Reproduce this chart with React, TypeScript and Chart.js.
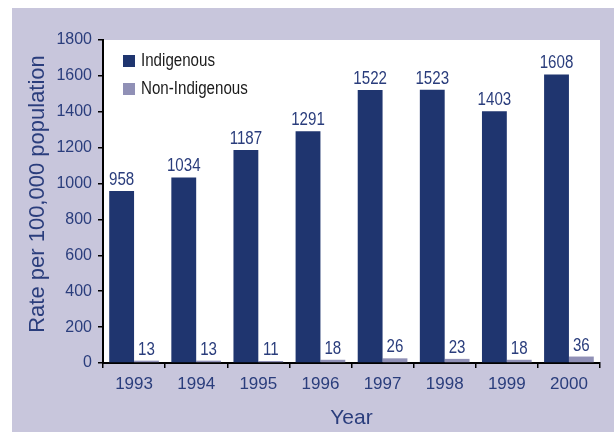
import React, { useEffect, useRef } from "react";
import { Chart, registerables } from "chart.js";

Chart.register(...registerables);

const years = ["1993", "1994", "1995", "1996", "1997", "1998", "1999", "2000"];
const indigenous = [958, 1034, 1187, 1291, 1522, 1523, 1403, 1608];
const nonIndigenous = [13, 13, 11, 18, 26, 23, 18, 36];
const seriesLabels = ["Indigenous", "Non-Indigenous"];
const yMin = 0;
const yMax = 1800;
const yStep = 200;
const yTitle = "Rate per 100,000 population";
const xTitle = "Year";

const NAVY_TEXT = "#2a3d7c";
const DARK_BAR = "#1f356f";
const LIGHT_BAR = "#9090b6";
const LAVENDER = "#c8c6dc";
const FONT = "'Liberation Sans', Arial, sans-serif";

const backgroundPlugin = {
  id: "panelBackground",
  beforeDraw(chart: any) {
    const { ctx, width, height, chartArea } = chart;
    ctx.save();
    ctx.fillStyle = "#ffffff";
    ctx.fillRect(0, 0, width, height);
    ctx.fillStyle = LAVENDER;
    ctx.fillRect(12, 8, width - 12, height - 8);
    ctx.fillStyle = "#ffffff";
    ctx.fillRect(chartArea.left, chartArea.top, chartArea.right - chartArea.left, chartArea.bottom - chartArea.top);
    ctx.restore();
  },
};

const labelsPlugin = {
  id: "valueLabels",
  afterDatasetsDraw(chart: any) {
    const { ctx } = chart;
    ctx.save();
    ctx.fillStyle = NAVY_TEXT;
    ctx.font = `18px ${FONT}`;
    ctx.textAlign = "center";
    ctx.textBaseline = "alphabetic";
    chart.data.datasets.forEach((ds: any, di: number) => {
      const meta = chart.getDatasetMeta(di);
      meta.data.forEach((bar: any, i: number) => {
        const v = ds.data[i];
        ctx.save();
        ctx.translate(bar.x, bar.y - 6);
        ctx.scale(0.84, 1);
        ctx.fillText(String(v), 0, 0);
        ctx.restore();
      });
    });
    ctx.restore();
  },
};

const legendTitlesPlugin = {
  id: "legendTitles",
  afterDraw(chart: any) {
    const { ctx, chartArea } = chart;
    ctx.save();
    // legend
    const lx = chartArea.left + 20;
    const ly = chartArea.top + 15;
    chart.data.datasets.forEach((ds: any, i: number) => {
      const y = ly + i * 28;
      ctx.fillStyle = ds.backgroundColor;
      ctx.fillRect(lx, y, 12, 12);
      ctx.fillStyle = "#1a1a1a";
      ctx.font = `18px ${FONT}`;
      ctx.textAlign = "left";
      ctx.textBaseline = "alphabetic";
      ctx.save();
      ctx.translate(lx + 18, y + 11);
      ctx.scale(0.84, 1);
      ctx.fillText(ds.label, 0, 0);
      ctx.restore();
    });
    // y title
    ctx.fillStyle = NAVY_TEXT;
    ctx.font = `22px ${FONT}`;
    ctx.textAlign = "center";
    ctx.textBaseline = "middle";
    ctx.save();
    ctx.translate(38, 194);
    ctx.rotate(-Math.PI / 2);
    ctx.fillText(yTitle, 0, 0);
    ctx.restore();
    // x title
    ctx.font = `21px ${FONT}`;
    ctx.textBaseline = "alphabetic";
    ctx.fillText(xTitle, (chartArea.left + chartArea.right) / 2, 424);
    ctx.restore();
  },
};

export default function App() {
  const canvasRef = useRef<HTMLCanvasElement | null>(null);

  useEffect(() => {
    if (!canvasRef.current) return;
    const chart = new Chart(canvasRef.current, {
      type: "bar",
      data: {
        labels: years,
        datasets: [
          {
            label: seriesLabels[0],
            data: indigenous,
            backgroundColor: DARK_BAR,
            categoryPercentage: 0.8,
            barPercentage: 1.0,
          },
          {
            label: seriesLabels[1],
            data: nonIndigenous,
            backgroundColor: LIGHT_BAR,
            categoryPercentage: 0.8,
            barPercentage: 1.0,
          },
        ],
      },
      options: {
        responsive: false,
        animation: false,
        devicePixelRatio: 1,
        layout: { padding: { left: 0, top: 40, right: 14, bottom: 0 } },
        plugins: {
          legend: { display: false },
          tooltip: { enabled: false },
        },
        scales: {
          x: {
            grid: {
              display: true,
              drawOnChartArea: false,
              drawTicks: true,
              tickLength: 5,
              color: "#000",
              lineWidth: 1.5,
              offset: true,
            },
            border: { display: true, color: "#000", width: 2 },
            ticks: {
              color: NAVY_TEXT,
              font: { family: FONT, size: 17 },
              padding: 6,
            },
            afterFit: (s: any) => {
              s.height = 69;
            },
          },
          y: {
            min: yMin,
            max: yMax,
            ticks: {
              stepSize: yStep,
              color: NAVY_TEXT,
              font: { family: FONT, size: 16 },
              padding: 6,
              callback: (v: any) => String(v),
            },
            grid: {
              display: true,
              drawOnChartArea: false,
              drawTicks: true,
              tickLength: 5,
              color: "#000",
              lineWidth: 1.5,
            },
            border: { display: true, color: "#000", width: 2 },
            afterFit: (s: any) => {
              s.width = 103;
            },
          },
        },
      },
      plugins: [backgroundPlugin, labelsPlugin, legendTitlesPlugin],
    } as any);
    return () => chart.destroy();
  }, []);

  return (
    <div style={{ position: "fixed", left: 0, top: 0, width: 614, height: 432 }}>
      <canvas ref={canvasRef} width={614} height={432} style={{ display: "block" }} />
    </div>
  );
}
